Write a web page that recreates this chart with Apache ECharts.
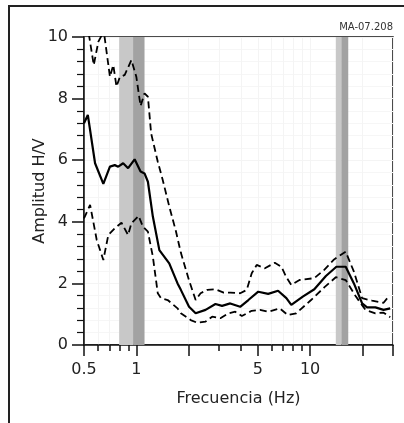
<!DOCTYPE html>
<html>
<head>
<meta charset="utf-8">
<script src="https://cdn.jsdelivr.net/npm/echarts@6/dist/echarts.min.js"></script>
<style>
  html, body { margin: 0; padding: 0; background: #fff; }
  #chart { width: 404px; height: 423px; }
</style>
</head>
<body>
<div id="chart"></div>
<script>
// curva media H/V
var meanFreq = [0.5, 0.526, 0.579, 0.646, 0.705, 0.752, 0.787, 0.84, 0.897, 0.978, 1.058, 1.115, 1.166, 1.245, 1.357, 1.547, 1.727, 1.804, 2.011, 2.195, 2.503, 2.854, 3.114, 3.473, 3.959, 4.414, 5.032, 5.738, 6.541, 7.303, 7.796, 9.077, 10.58, 12.33, 14.17, 16.03, 17.87, 19.93, 21.27, 23.75, 26.48, 28.91];
var meanAmp  = [7.2, 7.47, 5.9, 5.23, 5.79, 5.84, 5.79, 5.9, 5.74, 6.03, 5.63, 5.57, 5.3, 4.17, 3.08, 2.65, 2.0, 1.79, 1.24, 1.03, 1.14, 1.33, 1.27, 1.35, 1.24, 1.46, 1.73, 1.66, 1.76, 1.52, 1.3, 1.57, 1.81, 2.24, 2.54, 2.54, 2.0, 1.35, 1.22, 1.22, 1.14, 1.19];

// media + desviacion
var upperFreq = [0.5, 0.526, 0.569, 0.605, 0.632, 0.655, 0.705, 0.737, 0.769, 0.803, 0.858, 0.937, 1.0, 1.058, 1.115, 1.166, 1.217, 1.329, 1.419, 1.547, 1.689, 1.804, 2.011, 2.195, 2.344, 2.559, 2.854, 3.182, 3.473, 3.959, 4.322, 4.615, 4.928, 5.495, 6.264, 6.838, 7.303, 7.796, 8.692, 10.58, 12.06, 13.75, 16.03, 17.87, 19.93, 22.72, 26.48, 28.28];
var upperAmp  = [10.4, 10.3, 9.09, 9.85, 10.05, 10.05, 8.71, 9.09, 8.39, 8.69, 8.77, 9.25, 8.71, 7.76, 8.17, 8.06, 6.87, 5.95, 5.36, 4.5, 3.7, 3.0, 2.1, 1.46, 1.68, 1.79, 1.81, 1.7, 1.7, 1.68, 1.79, 2.33, 2.6, 2.49, 2.67, 2.54, 2.2, 1.95, 2.11, 2.17, 2.44, 2.78, 3.03, 2.38, 1.52, 1.44, 1.37, 1.57];

// media - desviacion
var lowerFreq = [0.5, 0.542, 0.592, 0.646, 0.69, 0.752, 0.822, 0.897, 0.937, 1.031, 1.092, 1.166, 1.245, 1.329, 1.388, 1.515, 1.727, 1.804, 2.056, 2.245, 2.503, 2.732, 3.046, 3.396, 3.709, 4.049, 4.615, 5.145, 5.738, 6.689, 7.457, 8.324, 10.13, 12.06, 14.06, 16.03, 18.27, 20.83, 23.75, 26.48, 28.91];
var lowerAmp  = [4.11, 4.55, 3.41, 2.76, 3.57, 3.79, 3.97, 3.57, 3.95, 4.19, 3.84, 3.68, 2.87, 1.68, 1.52, 1.46, 1.19, 1.03, 0.81, 0.72, 0.76, 0.92, 0.87, 1.03, 1.08, 0.94, 1.11, 1.14, 1.08, 1.19, 0.97, 1.03, 1.46, 1.87, 2.2, 2.11, 1.59, 1.14, 1.03, 1.05, 0.9];

// bandas de f0: [inicio, medio, fin] en Hz
var peakBands = [[0.797, 0.958, 1.115], [14.06, 15.13, 16.58]];

var xLabelValues = [0.5, 1, 5, 10];
var xMajorTicks = [0.5, 1, 2, 5, 10, 20, 30];
var xMinorTicks = [0.6, 0.7, 0.8, 0.9, 3, 4, 6, 7, 8, 9];
var stationName = 'MA-07.208';

function toPairs(xs, ys) {
  return xs.map(function (x, i) { return [x, ys[i]]; });
}

function hvChart() {
  var myChart = echarts.init(document.getElementById('chart'));
  var font = 'DejaVu Sans';
  var gridLine = { show: true, lineStyle: { color: '#f4f4f4', width: 1 } };

  var areas = [];
  peakBands.forEach(function (b) {
    areas.push([{ xAxis: b[0], itemStyle: { color: '#c8c8c8' } }, { xAxis: b[1] }]);
    areas.push([{ xAxis: b[1], itemStyle: { color: '#a2a2a2' } }, { xAxis: b[2] }]);
  });

  var option = {
    animation: false,
    backgroundColor: '#fff',
    textStyle: { fontFamily: font },
    title: {
      text: stationName,
      right: 11,
      top: 22,
      padding: 0,
      textStyle: { fontFamily: font, fontSize: 10, fontWeight: 'normal', color: '#333' }
    },
    graphic: [{
      type: 'rect',
      shape: { x: 9, y: 6, width: 500, height: 500 },
      style: { fill: 'none', stroke: '#222', lineWidth: 2 },
      silent: true
    }],
    grid: {
      left: 84, top: 37, right: 11, bottom: 78,
      show: true, borderColor: '#111', borderWidth: 1.5
    },
    xAxis: [{
      type: 'log',
      logBase: 10,
      min: 0.5,
      max: 30,
      position: 'bottom',
      name: 'Frecuencia (Hz)',
      nameLocation: 'middle',
      nameGap: 46,
      nameTextStyle: { fontFamily: font, fontSize: 16, color: '#222' },
      axisLine: { lineStyle: { color: '#111', width: 1.5 } },
      axisTick: { customValues: xMajorTicks, length: 11, lineStyle: { color: '#111', width: 1.5 } },
      axisLabel: {
        customValues: xLabelValues,
        margin: 17,
        fontFamily: font, fontSize: 16, color: '#222',
        formatter: function (v) { return String(v); }
      },
      splitLine: gridLine
    }, {
      type: 'log',
      logBase: 10,
      min: 0.5,
      max: 30,
      position: 'bottom',
      offset: 0,
      axisLine: { show: false },
      axisTick: { customValues: xMinorTicks, length: 6, lineStyle: { color: '#111', width: 1.5 } },
      axisLabel: { show: false },
      splitLine: gridLine
    }],
    yAxis: {
      type: 'value',
      min: 0,
      max: 10,
      interval: 2,
      name: 'Amplitud H/V',
      nameLocation: 'middle',
      nameGap: 36,
      nameMoveOverlap: false,
      nameTextStyle: { fontFamily: font, fontSize: 16, color: '#222' },
      axisLine: { show: true, lineStyle: { color: '#111', width: 1.5 } },
      axisTick: { show: true, length: 12, lineStyle: { color: '#111', width: 1.5 } },
      minorTick: { show: true, splitNumber: 5, length: 7, lineStyle: { color: '#111', width: 1.2 } },
      axisLabel: { margin: 16, fontFamily: font, fontSize: 16, color: '#222' },
      splitLine: gridLine,
      minorSplitLine: { show: true, lineStyle: { color: '#f6f6f6', width: 1 } }
    },
    series: [
      {
        name: 'f0',
        type: 'line',
        data: [],
        z: 1,
        silent: true,
        markArea: { silent: true, data: areas }
      },
      {
        name: 'media-sd',
        type: 'line',
        z: 3,
        symbol: 'none',
        data: toPairs(lowerFreq, lowerAmp),
        lineStyle: { color: '#000', width: 1.8, type: [7, 4] }
      },
      {
        name: 'media+sd',
        type: 'line',
        z: 3,
        symbol: 'none',
        data: toPairs(upperFreq, upperAmp),
        lineStyle: { color: '#000', width: 1.8, type: [7, 4] }
      },
      {
        name: 'media',
        type: 'line',
        z: 4,
        symbol: 'none',
        data: toPairs(meanFreq, meanAmp),
        lineStyle: { color: '#000', width: 2.2 }
      }
    ]
  };

  myChart.clear();
  myChart.setOption(option);
  window.addEventListener('resize', function () {
    myChart.resize();
  });
}

hvChart();
</script>
</body>
</html>
